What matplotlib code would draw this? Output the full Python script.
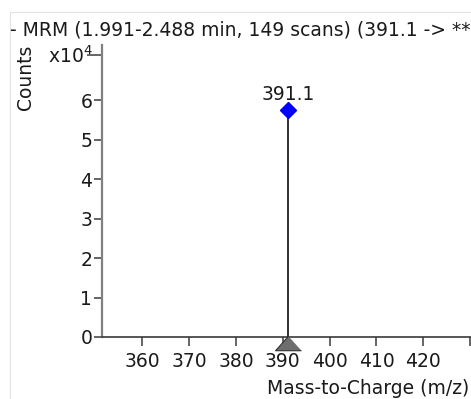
import matplotlib
matplotlib.use("Agg")
import matplotlib.pyplot as plt
import matplotlib.transforms as mtransforms
from matplotlib.patches import Rectangle

# spectrum data
peak_mz = [391.1]
peak_counts = [57500]
peak_labels = ["391.1"]
precursor_mz = [391.1]

title = "- MRM (1.991-2.488 min, 149 scans) (391.1 -> **"
x_ticks = [360, 370, 380, 390, 400, 410, 420, 430]
x_tick_labels = ["360", "370", "380", "390", "400", "410", "420", ""]
y_ticks = [0, 1, 2, 3, 4, 5, 6, 7.15]
y_tick_labels = ["0", "1", "2", "3", "4", "5", "6", "x10$^4$"]
scale = 1e4

plt.rcParams['font.family'] = ['DejaVu Sans']
fs = 13.5

W, H = 471, 399
fig = plt.figure(figsize=(W / 100, H / 100), dpi=100)

# axes placed in pixels
x0, y_bot, y_top = 102, 337, 45
xlo, xhi = 351.4, 440
px_per_unit = (423.3 - 142.3) / 60
ax_w = (xhi - xlo) * px_per_unit
ax = fig.add_axes([x0 / W, 1 - y_bot / H, ax_w / W, (y_bot - y_top) / H])
ax.set_xlim(xlo, xhi)
ax.set_ylim(0, (y_bot - y_top) / 39.5)

counts = [c / scale for c in peak_counts]
ax.vlines(peak_mz, 0, counts, color='#202020', lw=1.3, zorder=3)
ax.plot(peak_mz, counts, 'D', color='#0000ff', ms=8.5, mec='#0000ff', zorder=4)
for mz, c, lab in zip(peak_mz, counts, peak_labels):
    ax.annotate(lab, (mz, c), xytext=(0, 11), textcoords='offset points',
                ha='center', va='center', fontsize=fs, color='#1a1a1a')

# precursor triangle below the axis
tri = [(0, 1), (-1.8, -1), (1.8, -1)]
off = mtransforms.offset_copy(ax.transData, fig=fig, y=-6, units='dots')
ax.plot(precursor_mz, [0] * len(precursor_mz), marker=tri, ms=18.7, ls='none',
        color='#6e6e6e', mec='#303030', mew=0.8, transform=off, clip_on=False, zorder=5)

ax.spines['top'].set_visible(False)
ax.spines['right'].set_visible(False)
ax.spines['left'].set_color('#808080')
ax.spines['left'].set_linewidth(1.6)
ax.spines['bottom'].set_color('#3a3a3a')
ax.spines['bottom'].set_linewidth(1.2)

ax.set_xticks(x_ticks)
ax.set_xticklabels(x_tick_labels, fontsize=fs, color='#1a1a1a')
ax.set_yticks(y_ticks)
ax.set_yticklabels(y_tick_labels, fontsize=fs, color='#1a1a1a')
ax.tick_params(axis='x', direction='out', length=6.5, width=1.1, color='#3a3a3a', pad=4)
ax.tick_params(axis='y', direction='out', length=6, width=1.1, color='#3a3a3a', pad=1)
ax.yaxis.get_major_ticks()[-1].tick1line.set_markersize(11)

fig.text(10 / W, 1 - 30 / H, title, ha='left', va='center', fontsize=fs, color='#1a1a1a')
fig.text(26 / W, 1 - 45 / H, "Counts", rotation=90, ha='center', va='top',
         fontsize=fs, color='#1a1a1a')
fig.text(469 / W, 1 - 389 / H, "Mass-to-Charge (m/z)", ha='right', va='center',
         fontsize=fs, color='#1a1a1a')

fig.add_artist(Rectangle((9.5 / W, -0.1), 1.2, (H - 12) / H + 0.1, transform=fig.transFigure,
                         fill=False, ec='#e2e2e2', lw=0.8))

fig.savefig("out.png", dpi=100)
